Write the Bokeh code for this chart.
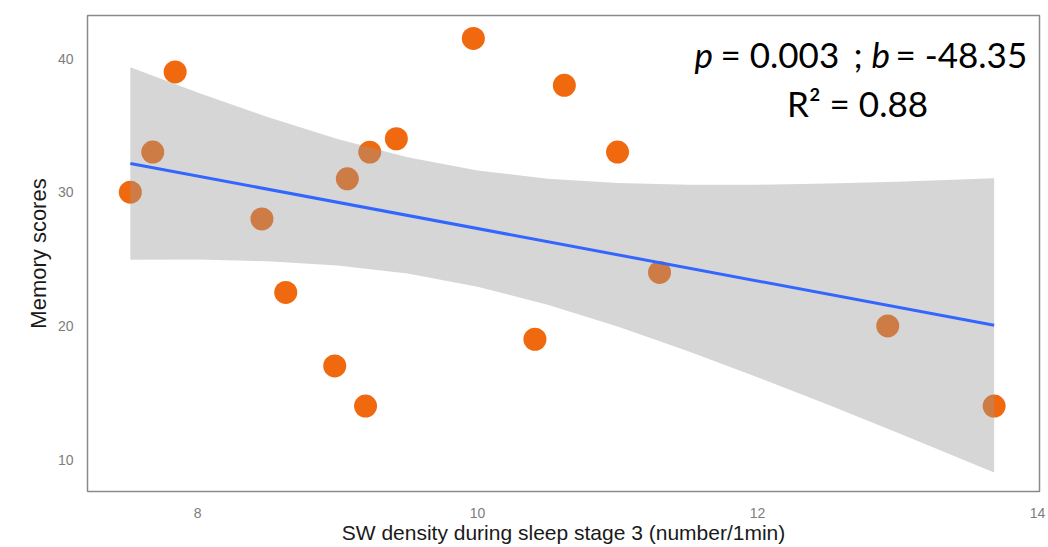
from bokeh.plotting import figure
from bokeh.models import Range1d, Label
from bokeh.embed import file_html
from bokeh.resources import INLINE

# data
sw_density = [7.52, 7.68, 7.84, 8.46, 8.63, 8.98, 9.07, 9.20, 9.23, 9.42,
              9.97, 10.41, 10.62, 11.00, 11.30, 12.93, 13.69]
memory = [30, 33, 39, 28, 22.5, 17, 31, 14, 33, 34,
          41.5, 19, 38, 33, 24, 20, 14]

fit_x = [7.52, 13.69]
fit_y = [32.15, 20.04]

band_x = [7.52, 8.0, 8.5, 9.0, 9.5, 10.0, 10.5, 11.0, 11.5, 12.0, 12.5, 13.0, 13.69]
band_upper = [39.35, 37.46, 35.62, 33.98, 32.62, 31.63, 31.01, 30.68, 30.55, 30.56, 30.65, 30.78, 31.04]
band_lower = [24.95, 24.96, 24.84, 24.52, 23.92, 22.93, 21.59, 19.96, 18.13, 16.16, 14.11, 12.0, 9.04]

x_ticks = [8, 10, 12, 14]
y_ticks = [10, 20, 30, 40]

W, H = 1048, 547
FL, FR, FT, FB = 87, 1039, 15, 491  # frame edges in page pixels

p = figure(width=W, height=H, output_backend="svg", toolbar_location=None,
           x_range=Range1d(7.214, 14.014), y_range=Range1d(7.61, 43.22),
           min_border_left=FL, min_border_right=W - FR, min_border_top=FT, min_border_bottom=H - FB)

p.background_fill_color = "white"
p.border_fill_color = "white"
p.outline_line_color = "#8a8a8a"
p.outline_line_width = 1.5
p.grid.visible = False

# points (drawn below the band)
p.scatter(sw_density, memory, size=23, fill_color="#F0690F", line_color=None)

# confidence band
p.varea(x=band_x, y1=band_lower, y2=band_upper, fill_color="#999999", fill_alpha=0.4)

# regression line
p.line(fit_x, fit_y, line_color="#3366FF", line_width=3)

for ax in (p.xaxis[0], p.yaxis[0]):
    ax.axis_line_color = None
    ax.major_tick_line_color = None
    ax.minor_tick_line_color = None
    ax.major_label_text_color = "#7d7d7d"
    ax.major_label_text_font = "Liberation Sans"
    ax.major_label_text_font_size = "14px"
    ax.axis_label_text_font = "Liberation Sans"
    ax.axis_label_text_font_style = "normal"
    ax.axis_label_text_color = "#1a1a1a"

p.xaxis.axis_label_text_font_size = "21px"
p.yaxis.axis_label_text_font_size = "22px"
p.xaxis.ticker = x_ticks
p.yaxis.ticker = y_ticks
p.xaxis.major_label_standoff = 10
p.yaxis.major_label_standoff = 8
p.xaxis.axis_label = "SW density during sleep stage 3 (number/1min)"
p.yaxis.axis_label = "Memory scores"
p.xaxis.axis_label_standoff = 0
p.yaxis.axis_label_standoff = 4


def sx(px):
    return px - FL


def sy(py):
    return FB - py


def add_text(txt, px, py, style="normal", align="left"):
    p.add_layout(Label(x=sx(px), y=sy(py), x_units="screen", y_units="screen",
                       text=txt, text_font="Lato", text_font_style=style,
                       text_font_size="35px", text_color="black",
                       text_align=align, text_baseline="alphabetic"))


add_text("p", 694, 53, "italic")
add_text("= 0.003", 720, 53)
add_text(";", 853, 53)
add_text("b", 871, 53, "italic")
add_text("= -48.35", 895, 53)
add_text("R² = 0.88", 857, 102, align="center")

open("out.html", "w").write(file_html(p, INLINE))
